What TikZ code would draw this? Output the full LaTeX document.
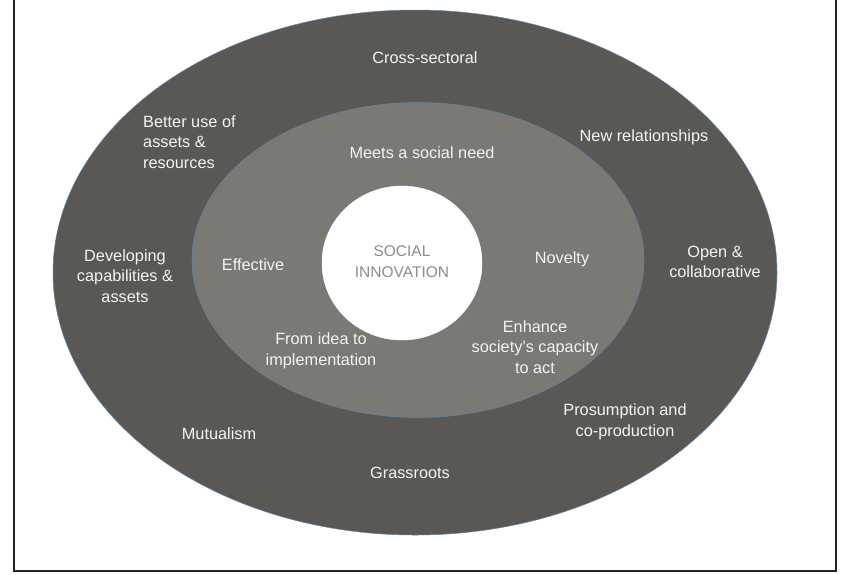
\documentclass[tikz,border=0pt]{standalone}
\usepackage{fontspec}
\setmainfont{Liberation Sans}
\usetikzlibrary{shapes.geometric}
\definecolor{outerfill}{HTML}{5A5854}
\definecolor{midfill}{HTML}{7A7973}
\definecolor{edgeblue}{HTML}{5E86AA}
\definecolor{labelwhite}{HTML}{F4F4F2}
\definecolor{coregray}{HTML}{8C8C8C}
\tikzset{
  ring/.style={ellipse, inner sep=0pt, draw=edgeblue, line width=0.5pt},
  lbl/.style={text=labelwhite, align=center, inner sep=0pt,
    font=\fontsize{16.3}{20.5}\selectfont},
  lblleft/.style={lbl, align=left},
  corelbl/.style={text=coregray, align=center, inner sep=0pt,
    font=\fontsize{15.5}{21}\selectfont},
  frame/.style={draw=black!85, line width=1.1pt}
}
\begin{document}
\begin{tikzpicture}[x=1pt,y=-1pt]
\useasboundingbox (0,0) rectangle (850,574);
\fill[white] (0,0) rectangle (850,574);
\draw[frame] (14,-5) rectangle (836,571);
\node[ring, fill=outerfill, minimum width=724pt, minimum height=525pt] (outer) at (415,272.5) {};
\node[ring, fill=midfill, minimum width=452pt, minimum height=315pt] (middle) at (418,260) {};
\node[ring, fill=white, draw=white, minimum width=160pt, minimum height=154pt] (core) at (402,263) {};
\node[corelbl] (coretext) at (402,262) {SOCIAL\\INNOVATION};
% middle ring labels
\node[lbl] (need) at (422,153) {Meets a social need};
\node[lbl] (effective) at (253,265) {Effective};
\node[lbl] (novelty) at (562,259) {Novelty};
\node[lbl] (idea) at (321,351) {From idea to\\implementation};
\node[lbl] (enhance) at (535,347) {Enhance\\society's capacity\\to act};
% outer ring labels
\node[lbl] (cross) at (425,58) {Cross-sectoral};
\node[lblleft, anchor=west] (better) at (143,142) {Better use of\\assets \&\\resources};
\node[lbl] (newrel) at (644,137) {New relationships};
\node[lbl] (developing) at (125,276) {Developing\\capabilities \&\\assets};
\node[lbl] (open) at (715,262) {Open \&\\collaborative};
\node[lbl] (prosum) at (625,422) {Prosumption and\\co-production};
\node[lbl] (mutual) at (219,434) {Mutualism};
\node[lbl] (grass) at (410,473) {Grassroots};
\end{tikzpicture}
\end{document}
